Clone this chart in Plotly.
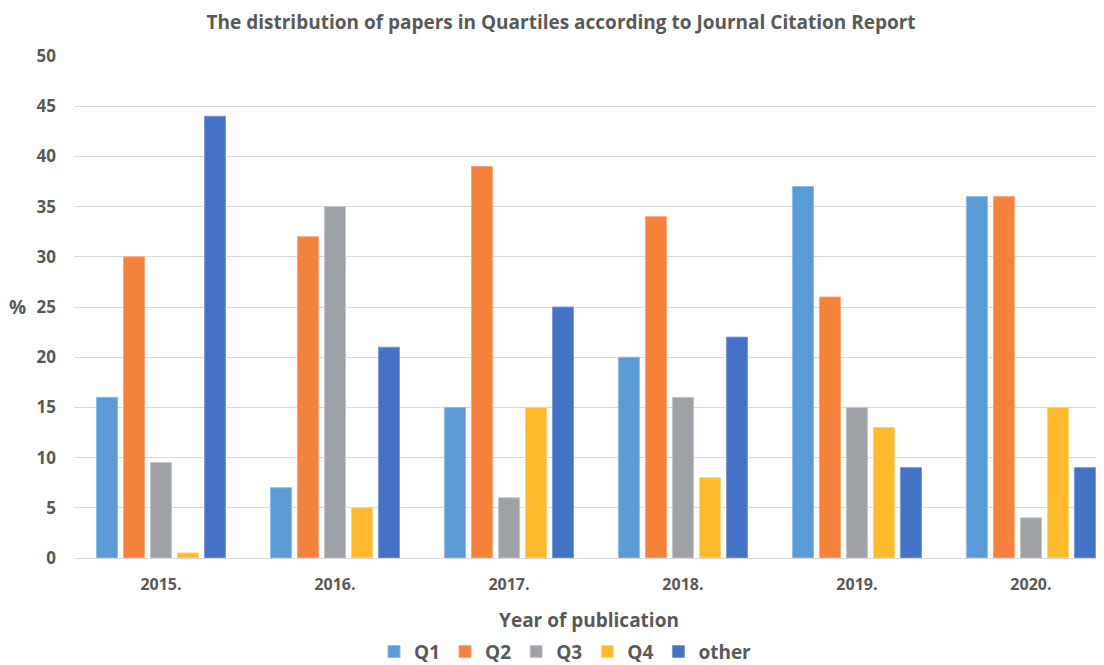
import plotly.graph_objects as go

years = ["2015.", "2016.", "2017.", "2018.", "2019.", "2020."]
series_names = ["Q1", "Q2", "Q3", "Q4", "other"]
q1 = [16, 7, 15, 20, 37, 36]
q2 = [30, 32, 39, 34, 26, 36]
q3 = [9.5, 35, 6, 16, 15, 4]
q4 = [0.5, 5, 15, 8, 13, 15]
other = [44, 21, 25, 22, 9, 9]
colors = ["#5B9BD5", "#F4823C", "#9EA1A5", "#FDBA2C", "#4472C4"]
edge_colors = ["#8DBDE6", "#F8A878", "#C3C5C8", "#FED27A", "#7C9BD6"]

fig = go.Figure()
for name, vals, c, ec in zip(series_names, [q1, q2, q3, q4, other], colors, edge_colors):
    fig.add_trace(go.Bar(x=years, y=vals, name="<b>" + name + "</b>",
                         marker=dict(color=c, line=dict(color=ec, width=1))))

font_family = "Open Sans, Noto Sans, sans-serif"
fig.update_layout(
    width=1104, height=665,
    paper_bgcolor="white", plot_bgcolor="white",
    margin=dict(l=66, r=8, t=48, b=115, autoexpand=False),
    barmode="group", bargap=0.224, bargroupgap=0.22,
    font=dict(family=font_family, color="#595959"),
    title=dict(text="<b>The distribution of papers in Quartiles according to Journal Citation Report</b>",
               x=0.501, xanchor="center", y=0.978, yanchor="middle",
               font=dict(size=19, color="#595959")),
    xaxis=dict(range=[-0.5, 5.42], showgrid=False, showline=True, linecolor="#D9D9D9", linewidth=1,
               tickfont=dict(size=16, color="#595959"), ticks="", automargin=False,
               tickprefix="<b>", ticksuffix="</b>", ticklabelstandoff=12,
               title=dict(text="<b>Year of publication</b>", font=dict(size=19, color="#595959"), standoff=21)),
    yaxis=dict(range=[0, 50], dtick=5, showgrid=True, gridcolor="#D9D9D9", gridwidth=1,
               zeroline=False, tickfont=dict(size=17, color="#595959"), ticks="", automargin=False,
               tickprefix="<b>", ticksuffix="</b>", ticklabelstandoff=17),
    legend=dict(orientation="h", xref="container", x=0.505, xanchor="center",
                yref="container", y=0.032, yanchor="middle",
                font=dict(size=19, color="#595959"), itemwidth=30, traceorder="normal"),
    annotations=[dict(text="<b>%</b>", xref="paper", yref="paper", x=-0.0447, y=0.5, xanchor="right",
                      yanchor="middle", showarrow=False, font=dict(size=19, color="#595959"))],
)

fig.write_html("out.html")
